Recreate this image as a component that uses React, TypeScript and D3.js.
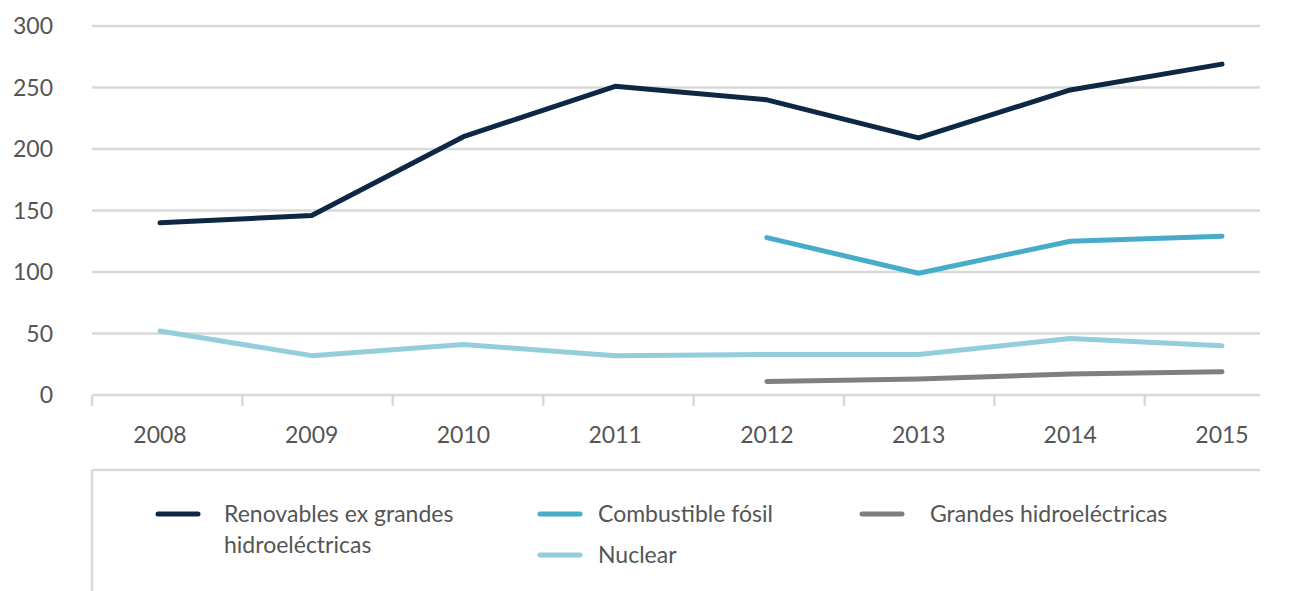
import React from "react";
import * as d3 from "d3";

const years = ["2008", "2009", "2010", "2011", "2012", "2013", "2014", "2015"];
const renovables = [140, 146, 210, 251, 240, 209, 248, 269];
const combustible = [null, null, null, null, 128, 99, 125, 129];
const nuclear = [52, 32, 41, 32, 33, 33, 46, 40];
const grandesHidro = [null, null, null, null, 11, 13, 17, 19];
const yTicks = [0, 50, 100, 150, 200, 250, 300];

const seriesNames = [
  "Renovables ex grandes hidroeléctricas",
  "Combustible fósil",
  "Grandes hidroeléctricas",
  "Nuclear",
];

const W = 1290;
const H = 591;
const FONT = "Lato, 'Open Sans', sans-serif";
const GRID = "#d9d9d9";
const TEXT = "#555555";
const FS = 23;

export default function App() {
  const x = d3.scalePoint<string>().domain(years).range([160, 1222]);
  const xTicksScale = d3.scaleBand<string>().domain(years).range([92, 92 + 150.4 * 8]);
  const y = d3.scaleLinear().domain([0, 300]).range([395, 26]);

  const line = d3
    .line<number | null>()
    .defined((d) => d !== null)
    .x((_, i) => x(years[i]) as number)
    .y((d) => y(d as number));

  const series = [
    { name: seriesNames[0], values: renovables, color: "#0e2745" },
    { name: seriesNames[1], values: combustible, color: "#46acc9" },
    { name: seriesNames[2], values: grandesHidro, color: "#7f7f7f" },
    { name: seriesNames[3], values: nuclear, color: "#94cedc" },
  ];

  const drawOrder = [3, 2, 1, 0];

  const legend = [
    { s: series[0], lx: 158, tx: 224, ly: 514, lines: ["Renovables ex grandes", "hidroeléctricas"] },
    { s: series[1], lx: 540, tx: 598, ly: 514, lines: ["Combustible fósil"] },
    { s: series[2], lx: 862, tx: 930, ly: 514, lines: ["Grandes hidroeléctricas"] },
    { s: series[3], lx: 540, tx: 598, ly: 555, lines: ["Nuclear"] },
  ];

  return (
    <svg
      width={W}
      height={H}
      style={{ position: "absolute", left: 0, top: 0, background: "#fff" }}
      fontFamily={FONT}
    >
      {yTicks.map((t) => (
        <line key={t} x1={92} x2={1260} y1={y(t)} y2={y(t)} stroke={GRID} strokeWidth={2.5} />
      ))}
      {yTicks.map((t) => (
        <text key={"yl" + t} x={53} y={y(t)} dy="0.35em" textAnchor="end" fontSize={FS} fill={TEXT}>
          {t}
        </text>
      ))}
      {years.map((yr) => (
        <line
          key={"xt" + yr}
          x1={xTicksScale(yr) as number}
          x2={xTicksScale(yr) as number}
          y1={395}
          y2={406}
          stroke={GRID}
          strokeWidth={2.5}
        />
      ))}
      {years.map((yr) => (
        <text key={"xl" + yr} x={x(yr) as number} y={435} dy="0.35em" textAnchor="middle" fontSize={FS} fill={TEXT}>
          {yr}
        </text>
      ))}
      {drawOrder.map((i) => (
        <path
          key={"s" + i}
          d={line(series[i].values as (number | null)[]) || ""}
          fill="none"
          stroke={series[i].color}
          strokeWidth={5}
          strokeLinecap="round"
          strokeLinejoin="round"
        />
      ))}
      <line x1={92} x2={1260} y1={470} y2={470} stroke={GRID} strokeWidth={2.5} />
      <line x1={92} x2={92} y1={470} y2={591} stroke={GRID} strokeWidth={2.5} />
      {legend.map((l, i) => (
        <g key={"lg" + i}>
          <line
            x1={l.lx}
            x2={l.lx + 40}
            y1={l.ly}
            y2={l.ly}
            stroke={l.s.color}
            strokeWidth={5}
            strokeLinecap="round"
          />
          {l.lines.map((t, j) => (
            <text key={j} x={l.tx} y={l.ly + j * 31} dy="0.35em" fontSize={FS} fill={TEXT}>
              {t}
            </text>
          ))}
        </g>
      ))}
    </svg>
  );
}
